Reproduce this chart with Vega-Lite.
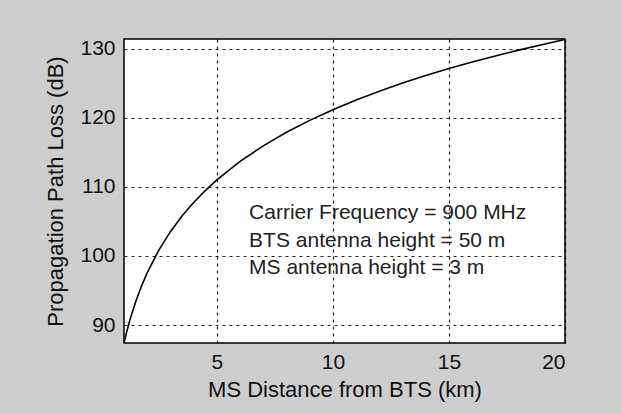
{
  "$schema": "https://vega.github.io/schema/vega-lite/v6.json",
  "width": 441,
  "height": 304,
  "autosize": {"type": "none"},
  "padding": {"left": 124, "top": 39, "right": 56, "bottom": 71},
  "background": "#cdcdcd",
  "config": {
    "view": {"fill": "white", "stroke": "black", "strokeWidth": 1.5},
    "font": "Liberation Sans",
    "axis": {
      "labelFont": "Liberation Sans",
      "titleFont": "Liberation Sans",
      "labelColor": "#111",
      "titleColor": "#111",
      "labelFontSize": 21,
      "titleFontSize": 22,
      "titleFontWeight": "normal",
      "domain": false,
      "ticks": false,
      "grid": true,
      "gridColor": "black",
      "gridOpacity": 0.85,
      "gridDash": [3, 4],
      "gridWidth": 1.2
    }
  },
  "data": {
    "values": [
      {"d": 1, "loss": 87.4},
      {"d": 1.1, "loss": 88.8},
      {"d": 1.25, "loss": 90.7},
      {"d": 1.5, "loss": 93.35},
      {"d": 1.75, "loss": 95.6},
      {"d": 2, "loss": 97.57},
      {"d": 2.5, "loss": 100.84},
      {"d": 3, "loss": 103.51},
      {"d": 3.5, "loss": 105.77},
      {"d": 4, "loss": 107.73},
      {"d": 4.5, "loss": 109.46},
      {"d": 5, "loss": 111.0},
      {"d": 6, "loss": 113.68},
      {"d": 7, "loss": 115.94},
      {"d": 8, "loss": 117.9},
      {"d": 9, "loss": 119.62},
      {"d": 10, "loss": 121.17},
      {"d": 11, "loss": 122.57},
      {"d": 12, "loss": 123.84},
      {"d": 13, "loss": 125.02},
      {"d": 14, "loss": 126.11},
      {"d": 15, "loss": 127.12},
      {"d": 16, "loss": 128.06},
      {"d": 17, "loss": 128.95},
      {"d": 18, "loss": 129.79},
      {"d": 19, "loss": 130.58},
      {"d": 20, "loss": 131.34}
    ]
  },
  "layer": [
    {
      "mark": {"type": "line", "color": "black", "strokeWidth": 1.6, "clip": true},
      "encoding": {
        "x": {
          "field": "d",
          "type": "quantitative",
          "scale": {"domain": [1, 20], "nice": false, "zero": false},
          "axis": {"values": [5, 10, 15, 20], "title": "MS Distance from BTS (km)", "labelPadding": 8, "titlePadding": 7}
        },
        "y": {
          "field": "loss",
          "type": "quantitative",
          "scale": {"domain": [87.4, 131.4], "nice": false, "zero": false},
          "axis": {"values": [90, 100, 110, 120, 130], "title": "Propagation Path Loss (dB)", "labelPadding": 9, "titlePadding": 12}
        }
      }
    },
    {
      "data": {
        "values": [
          {"tx": 6.39, "ty": 106.2, "label": "Carrier Frequency = 900 MHz"},
          {"tx": 6.39, "ty": 102.2, "label": "BTS antenna height = 50 m"},
          {"tx": 6.39, "ty": 98.3, "label": "MS antenna height = 3 m"}
        ]
      },
      "mark": {"type": "text", "align": "left", "baseline": "middle", "fontSize": 21, "font": "Liberation Sans", "color": "#222"},
      "encoding": {
        "x": {"field": "tx", "type": "quantitative"},
        "y": {"field": "ty", "type": "quantitative"},
        "text": {"field": "label"}
      }
    }
  ]
}
